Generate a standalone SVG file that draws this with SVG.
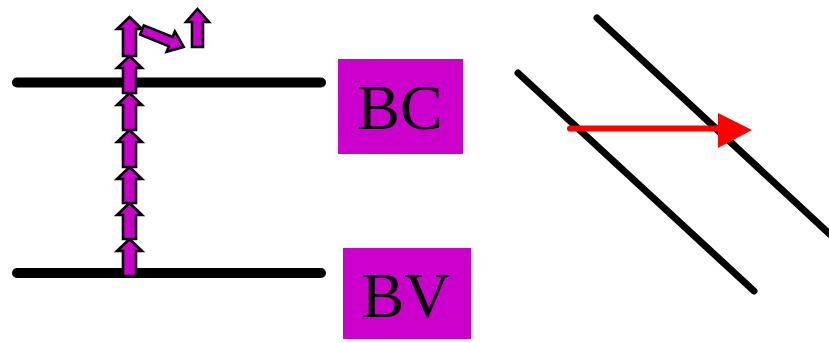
<svg xmlns="http://www.w3.org/2000/svg" width="829" height="343" viewBox="0 0 829 343">
<style>
.band{stroke:#000;stroke-width:10;stroke-linecap:round;fill:none}
.diag{stroke:#000;stroke-width:7;stroke-linecap:round;fill:none}
.blk{fill:#CC00CC;stroke:#000;stroke-width:2.6;stroke-linejoin:miter}
.box{fill:#CC00CC}
.lbl{font-family:"Liberation Serif","Times New Roman",serif;font-size:64px;fill:#000;text-anchor:middle}
</style>
<rect width="829" height="343" fill="#fff"/>
<g id="bands">
<line class="band" x1="17" y1="82.5" x2="321" y2="82.5"/>
<line class="band" x1="17" y1="273" x2="321" y2="273"/>
</g>
<g id="diagonals">
<line class="diag" x1="518" y1="73" x2="754" y2="291"/>
<line class="diag" x1="597" y1="18" x2="836" y2="240"/>
</g>
<g id="electron-arrows">
<path class="blk" d="M129.5,239 L142,251 L136,251 L136,276 L123,276 L123,251 L117,251 Z"/>
<path class="blk" d="M129.5,203 L142,215 L136,215 L136,239 L123,239 L123,215 L117,215 Z"/>
<path class="blk" d="M129.5,167 L142,179 L136,179 L136,203 L123,203 L123,179 L117,179 Z"/>
<path class="blk" d="M129.5,130 L142,142 L136,142 L136,167 L123,167 L123,142 L117,142 Z"/>
<path class="blk" d="M129.5,93 L142,105 L136,105 L136,130 L123,130 L123,105 L117,105 Z"/>
<path class="blk" d="M129.5,56 L142,68 L136,68 L136,93 L123,93 L123,68 L117,68 Z"/>
<path class="blk" d="M129.5,17 L142,29 L136,29 L136,56 L123,56 L123,29 L117,29 Z"/>
<path class="blk" transform="translate(142,30) rotate(22)" d="M0,-5 L31,-5 L31,-11 L45,0 L31,11 L31,5 L0,5 Z"/>
<path class="blk" d="M197.5,9 L209,22 L203,22 L203,47 L192,47 L192,22 L186,22 Z"/>
</g>
<g id="BC">
<rect class="box" x="338" y="59" width="125" height="95"/>
<text class="lbl" x="400" y="129">BC</text>
</g>
<g id="BV">
<rect class="box" x="343" y="248" width="128" height="91"/>
<text class="lbl" x="406" y="317">BV</text>
</g>
<g id="connectors">
<line x1="570" y1="128.5" x2="718" y2="128.5" stroke="#FF0000" stroke-width="6" stroke-linecap="round"/>
<path d="M718,113 L752,130 L718,148 Z" fill="#FF0000"/>
</g>
</svg>
